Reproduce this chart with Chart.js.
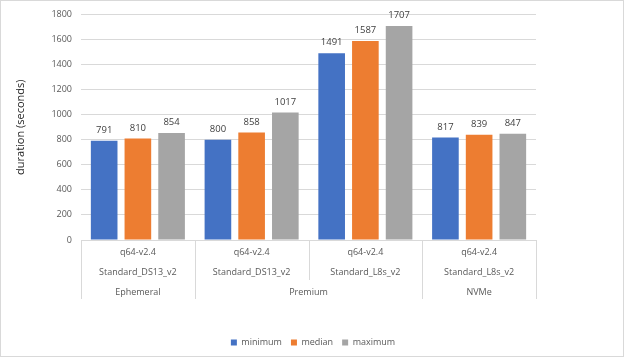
<!DOCTYPE html>
<html>
<head>
<meta charset="utf-8">
<script src="https://cdn.jsdelivr.net/npm/chart.js@4"></script>
<style>
html,body{margin:0;padding:0;background:#fff;}
#wrap{width:624px;height:358px;position:relative;}
</style>
</head>
<body>
<div id="wrap"><canvas id="c" width="624" height="358"></canvas></div>
<script>
const configs = ["q64-v2.4", "q64-v2.4", "q64-v2.4", "q64-v2.4"];
const vmSizes = ["Standard_DS13_v2", "Standard_DS13_v2", "Standard_L8s_v2", "Standard_L8s_v2"];
const diskTypes = ["Ephemeral", "Premium", "Premium", "NVMe"];
const seriesNames = ["minimum", "median", "maximum"];
const minimum = [791, 800, 1491, 817];
const median = [810, 858, 1587, 839];
const maximum = [854, 1017, 1707, 847];
const yTicks = [0, 200, 400, 600, 800, 1000, 1200, 1400, 1600, 1800];

const FONT = "'Open Sans', 'Noto Sans', sans-serif";
const GRID = '#D9D9D9';
const TXT = '#595959';

const labels = configs.map((c, i) => [c, vmSizes[i]]);

const decorPlugin = {
  id: 'decor',
  afterLayout(chart) {
    if (chart.legend) {
      chart.legend.left = 0;
      chart.legend.right = 626;
      chart.legend.width = 626;
    }
  },
  beforeDraw(chart) {
    const ctx = chart.ctx;
    ctx.save();
    ctx.fillStyle = '#fff';
    ctx.fillRect(0, 0, chart.width, chart.height);
    ctx.strokeStyle = GRID;
    ctx.lineWidth = 1;
    ctx.strokeRect(0.5, 0.5, chart.width - 1, chart.height - 2);
    ctx.restore();
  },
  afterDraw(chart) {
    const ctx = chart.ctx;
    const x = chart.scales.x;
    const area = chart.chartArea;
    const base = area.bottom;
    const n = diskTypes.length;
    const bounds = [];
    bounds.push(area.left);
    for (let i = 0; i < n - 1; i++) {
      bounds.push((x.getPixelForValue(i) + x.getPixelForValue(i + 1)) / 2);
    }
    bounds.push(area.right);
    ctx.save();
    ctx.strokeStyle = GRID;
    ctx.lineWidth = 1;
    for (let b = 0; b <= n; b++) {
      const long = (b === 0 || b === n || diskTypes[b - 1] !== diskTypes[b]);
      const px = Math.round(bounds[b]) + 0.5;
      ctx.beginPath();
      ctx.moveTo(px, base);
      ctx.lineTo(px, base + (long ? 59 : 40));
      ctx.stroke();
    }
    ctx.fillStyle = TXT;
    ctx.font = "9px " + FONT;
    ctx.textAlign = 'center';
    ctx.textBaseline = 'middle';
    let start = 0;
    for (let i = 1; i <= n; i++) {
      if (i === n || diskTypes[i] !== diskTypes[start]) {
        const cx = (bounds[start] + bounds[i]) / 2;
        ctx.fillText(diskTypes[start], cx, base + 52.5);
        start = i;
      }
    }
    ctx.restore();
  },
  afterDatasetsDraw(chart) {
    const ctx = chart.ctx;
    ctx.save();
    ctx.fillStyle = '#404040';
    ctx.font = "9.5px " + FONT;
    ctx.textAlign = 'center';
    ctx.textBaseline = 'middle';
    chart.data.datasets.forEach((ds, di) => {
      const meta = chart.getDatasetMeta(di);
      meta.data.forEach((bar, i) => {
        ctx.fillText(String(ds.data[i]), bar.x, bar.y - 10.5);
      });
    });
    ctx.restore();
  }
};

new Chart(document.getElementById('c'), {
  type: 'bar',
  data: {
    labels: labels,
    datasets: [
      { label: seriesNames[0], data: minimum, backgroundColor: '#4472C4' },
      { label: seriesNames[1], data: median, backgroundColor: '#ED7D31' },
      { label: seriesNames[2], data: maximum, backgroundColor: '#A5A5A5' }
    ]
  },
  options: {
    responsive: false,
    animation: false,
    devicePixelRatio: 1,
    layout: { padding: { left: 0, right: 88, top: 11, bottom: 1 } },
    datasets: { bar: { categoryPercentage: 0.889, barPercentage: 0.79 } },
    plugins: {
      legend: {
        position: 'bottom',
        labels: {
          boxWidth: 6, boxHeight: 6, padding: 9,
          color: TXT,
          font: { family: FONT, size: 9 }
        }
      },
      tooltip: { enabled: false }
    },
    scales: {
      x: {
        grid: { display: false, drawTicks: false },
        border: { display: true, color: GRID },
        ticks: {
          color: TXT, padding: 3,
          font: { family: FONT, size: 9, lineHeight: 2.15 },
          maxRotation: 0, autoSkip: false
        },
        afterFit(scale) { scale.height = 89; }
      },
      y: {
        min: 0, max: 1800,
        afterBuildTicks(scale) { scale.ticks = yTicks.map(v => ({ value: v })); },
        grid: { color: GRID, drawTicks: false },
        border: { display: false },
        ticks: {
          color: TXT, padding: 9, font: { family: FONT, size: 9 },
          callback: (v) => String(v)
        },
        title: {
          display: true, text: 'duration (seconds)', color: '#262626',
          font: { family: FONT, size: 11 }, padding: { top: 14, bottom: 0 }
        },
        afterFit(scale) { scale.width = 81; }
      }
    }
  },
  plugins: [decorPlugin]
});
</script>
</body>
</html>
